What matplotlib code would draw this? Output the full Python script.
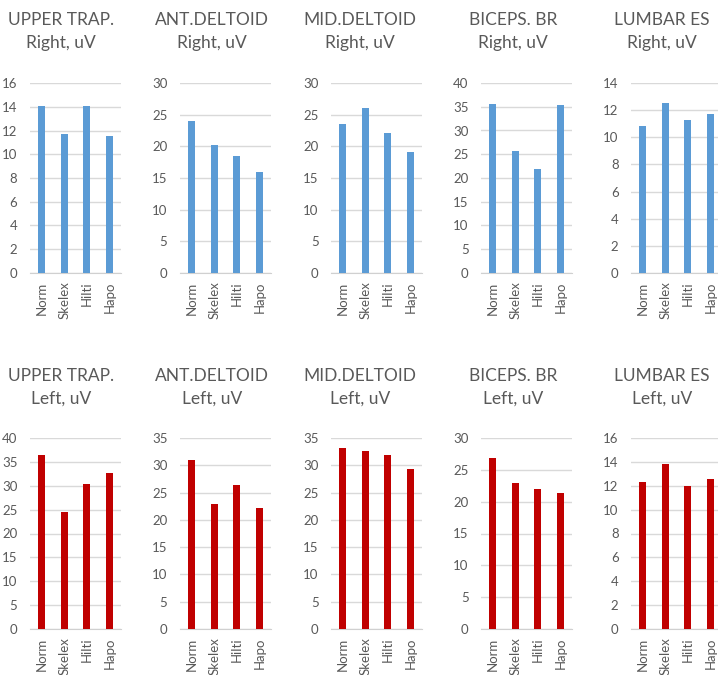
import numpy as np
import matplotlib.pyplot as plt

plt.rcParams['font.family'] = ['Lato', 'DejaVu Sans']

conditions = ['Norm', 'Skelex', 'Hilti', 'Hapo']
muscles = ['UPPER TRAP.', 'ANT.DELTOID', 'MID.DELTOID', 'BICEPS. BR', 'LUMBAR ES']

right_vals = [
    [14.1, 11.7, 14.05, 11.5],
    [24.0, 20.2, 18.4, 16.0],
    [23.6, 26.0, 22.1, 19.1],
    [35.6, 25.7, 21.9, 35.3],
    [10.8, 12.5, 11.3, 11.7],
]
left_vals = [
    [36.5, 24.5, 30.3, 32.7],
    [30.9, 22.9, 26.4, 22.1],
    [33.1, 32.7, 31.8, 29.3],
    [26.8, 23.0, 22.0, 21.3],
    [12.3, 13.8, 12.0, 12.6],
]
right_ymax = [16, 30, 30, 40, 14]
right_step = [2, 5, 5, 5, 2]
left_ymax = [40, 35, 35, 30, 16]
left_step = [5, 5, 5, 5, 2]

W, H = 718, 675
fig = plt.figure(figsize=(W / 100, H / 100), dpi=100)

# pixel layout of each plot area (left edge of gridlines)
x_left = [30, 180, 331, 481, 631]
title_cx = [61, 212, 360, 513, 662]
plot_w = 91
rows = [
    # vals, ymax, step, side, color, top px, zero px, title y
    (right_vals, right_ymax, right_step, 'Right', '#5b9bd5', 83, 273, 20),
    (left_vals, left_ymax, left_step, 'Left', '#c00000', 438, 629, 376),
]

grey = '#595959'
for vals, ymax, step, side, color, top, zero, ty in rows:
    for i in range(5):
        ax = fig.add_axes([x_left[i] / W, 1 - zero / H, plot_w / W, (zero - top) / H])
        x = np.arange(len(conditions))
        ax.bar(x, vals[i], width=0.31, color=color, zorder=3)
        ax.set_xlim(-0.5, 3.5)
        ax.set_ylim(0, ymax[i])
        ax.set_yticks(np.arange(0, ymax[i] + 0.1, step[i]))
        ax.set_xticks(x)
        ax.set_xticklabels(conditions, rotation=90, fontsize=9.5, color=grey)
        ax.tick_params(axis='y', labelsize=9.5, labelcolor=grey, length=0, pad=9)
        ax.tick_params(axis='x', length=0, pad=6)
        ax.grid(axis='y', color='#d9d9d9', linewidth=1, zorder=0)
        for s in ['top', 'right', 'left']:
            ax.spines[s].set_visible(False)
        ax.spines['bottom'].set_color('#d0d0d0')
        ax.set_facecolor('none')
        fig.text(title_cx[i] / W, 1 - ty / H, muscles[i], ha='center', va='center',
                 fontsize=12.5, color=grey)
        fig.text(title_cx[i] / W, 1 - (ty + 23) / H, side + ', uV', ha='center',
                 va='center', fontsize=12.5, color=grey)

fig.savefig('out.png', dpi=100)
